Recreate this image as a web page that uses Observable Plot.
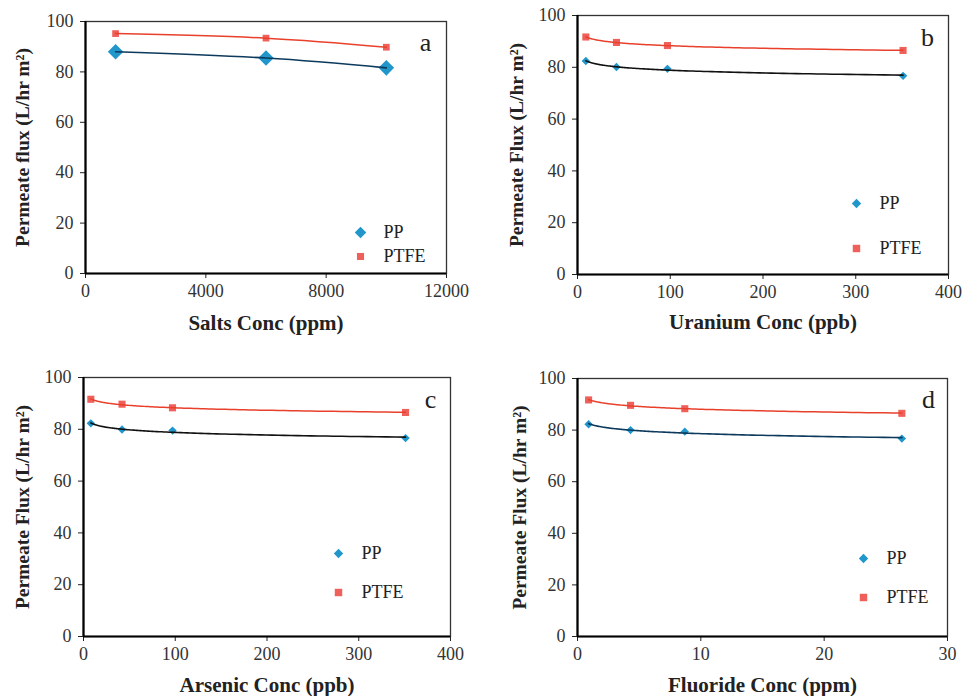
<!DOCTYPE html>
<html>
<head>
<meta charset="utf-8">
<script src="https://cdn.jsdelivr.net/npm/d3@7"></script>
<script src="https://cdn.jsdelivr.net/npm/@observablehq/plot@0.6"></script>
<style>
  html, body { margin: 0; padding: 0; background: #fff; }
  #wrap { position: relative; width: 962px; height: 696px; overflow: hidden; background: #fff; font-family: "Liberation Serif", serif; }
  #wrap svg { position: absolute; overflow: visible; }
  #wrap svg text { font-family: "Liberation Serif", serif !important; }
</style>
</head>
<body>
<div id="wrap"></div>
<script>
// ---- data ----
const seriesNames = ["PP", "PTFE"];
const yTicks = [0, 20, 40, 60, 80, 100];

const saltsConc = [1000, 6000, 10000];
const saltsPP = [88.0, 85.5, 81.6];
const saltsPTFE = [95.2, 93.4, 89.8];
const saltsTicks = [0, 4000, 8000, 12000];

const uraniumConc = [9, 42, 97, 351];
const uraniumPP = [82.4, 80.1, 79.4, 76.7];
const uraniumPTFE = [91.7, 89.6, 88.4, 86.5];
const uraniumTicks = [0, 100, 200, 300, 400];

const arsenicConc = [8, 42, 97, 351];
const arsenicPP = [82.3, 79.9, 79.5, 76.6];
const arsenicPTFE = [91.6, 89.7, 88.3, 86.5];
const arsenicTicks = [0, 100, 200, 300, 400];

const fluorideConc = [0.9, 4.3, 8.7, 26.3];
const fluoridePP = [82.3, 80.0, 79.4, 76.7];
const fluoridePTFE = [91.7, 89.6, 88.3, 86.5];
const fluorideTicks = [0, 10, 20, 30];

// ---- helpers ----
const ppColor = "#2096cb";
const ptfeColor = "#f0605a";
const ptfeLine = "#e9402c";
const FONT = "Liberation Serif";

// logarithmic least-squares trend line (like a spreadsheet log trendline)
function logTrend(xs, ys) {
  const lx = xs.map(Math.log);
  const mx = d3.mean(lx), my = d3.mean(ys);
  const b = d3.sum(lx, (v, i) => (v - mx) * (ys[i] - my)) / d3.sum(lx, v => (v - mx) ** 2);
  const a = my - b * mx;
  const x0 = d3.min(xs), x1 = d3.max(xs);
  return d3.range(0, 121).map(i => {
    const x = x0 * Math.pow(x1 / x0, i / 120);
    return { x, y: a + b * Math.log(x) };
  });
}

function panel(o) {
  const rows = o.x.map((v, i) => ({ x: v, pp: o.pp[i], ptfe: o.ptfe[i] }));
  const lineMarks = o.trend === "log"
    ? [
        Plot.line(logTrend(o.x, o.ptfe), { x: "x", y: "y", stroke: ptfeLine, strokeWidth: 1.5 }),
        Plot.line(logTrend(o.x, o.pp), { x: "x", y: "y", stroke: o.ppLine, strokeWidth: 1.6 })
      ]
    : [
        Plot.line(rows, { x: "x", y: "ptfe", curve: "natural", stroke: ptfeLine, strokeWidth: 1.5 }),
        Plot.line(rows, { x: "x", y: "pp", curve: "natural", stroke: o.ppLine, strokeWidth: 1.6 })
      ];
  const L = o.legend;
  const svg = Plot.plot({
    width: o.width,
    height: o.height,
    marginLeft: o.m[0], marginRight: o.m[1], marginTop: o.m[2], marginBottom: o.m[3],
    style: { fontFamily: FONT, fontSize: "18px", color: "#222", background: "transparent", overflow: "visible" },
    x: { domain: o.xDomain, ticks: o.xTicks },
    y: { domain: [0, 100], ticks: yTicks },
    marks: [
      Plot.frame({ stroke: "#333", strokeWidth: 1.3 }),
      Plot.axisY({ ticks: yTicks, tickSize: 5, tickPadding: 7, label: null, fontSize: 18, fill: "#333", tickFormat: d3.format("d") }),
      Plot.axisX({ ticks: o.xTicks, tickSize: 5, tickPadding: 6, label: null, fontSize: 18, fill: "#333", tickFormat: d3.format("d") }),
      Plot.ruleY([0], { stroke: "#000", strokeWidth: 2.2 }),
      Plot.ruleX([o.xDomain[0]], { stroke: "#000", strokeWidth: 2.2 }),
      Plot.dot(rows, { x: "x", y: "ptfe", symbol: "square", r: o.ptfeR, fill: ptfeColor, stroke: "none" }),
      Plot.dot(rows, { x: "x", y: "pp", symbol: "diamond2", r: o.ppR, fill: ppColor, stroke: "none" }),
      ...lineMarks,
      // axis titles
      Plot.text([o.yTitle], { text: d => d, frameAnchor: "left", dx: -o.yTitleDx, rotate: -90, textAnchor: "middle", lineAnchor: "middle", fontWeight: "bold", fontSize: 19.5, fill: "#222" }),
      Plot.text([o.xTitle], { text: d => d, frameAnchor: "bottom", dy: o.xTitleDy, textAnchor: "middle", lineAnchor: "middle", fontWeight: "bold", fontSize: 21, fill: "#222" }),
      // panel letter
      Plot.text([o.letter], { text: d => d, frameAnchor: "top-right", dx: o.letterPos[0], dy: o.letterPos[1], textAnchor: "middle", lineAnchor: "middle", fontSize: 26, fill: "#222" }),
      // legend
      Plot.dot([seriesNames[0]], { frameAnchor: "bottom-right", dx: L.dx, dy: L.ppDy, symbol: "diamond2", r: L.ppR, fill: ppColor, stroke: "none" }),
      Plot.dot([seriesNames[1]], { frameAnchor: "bottom-right", dx: L.dx, dy: L.ptfeDy, symbol: "square", r: L.ptfeR, fill: ptfeColor, stroke: "none" }),
      Plot.text([seriesNames[0]], { text: d => d, frameAnchor: "bottom-right", dx: L.tx, dy: L.ppDy, textAnchor: "start", lineAnchor: "middle", fontSize: 18, fill: "#222" }),
      Plot.text([seriesNames[1]], { text: d => d, frameAnchor: "bottom-right", dx: L.tx, dy: L.ptfeDy, textAnchor: "start", lineAnchor: "middle", fontSize: 18, fill: "#222" })
    ]
  });
  svg.style.left = o.left + "px";
  svg.style.top = o.top + "px";
  svg.style.fontFamily = FONT;
  svg.setAttribute("font-family", FONT);
  document.getElementById("wrap").appendChild(svg);
}

panel({
  left: 0, top: 0, width: 481, height: 348, m: [85, 35, 21, 75],
  xDomain: [0, 12000], xTicks: saltsTicks, x: saltsConc, pp: saltsPP, ptfe: saltsPTFE,
  trend: "poly", ppLine: "#0d3a5c", ppR: 7, ptfeR: 3.8,
  yTitle: "Permeate flux (L/hr m²)", yTitleDx: 63, xTitle: "Salts Conc (ppm)", xTitleDy: 50,
  letter: "a", letterPos: [-21, 21],
  legend: { dx: -86, tx: -63, ppDy: -41, ptfeDy: -17, ppR: 5.2, ptfeR: 4 }
});

panel({
  left: 481, top: 0, width: 481, height: 348, m: [96, 14, 15, 74],
  xDomain: [0, 400], xTicks: uraniumTicks, x: uraniumConc, pp: uraniumPP, ptfe: uraniumPTFE,
  trend: "log", ppLine: "#111", ppR: 3.8, ptfeR: 4,
  yTitle: "Permeate Flux (L/hr m²)", yTitleDx: 61, xTitle: "Uranium Conc (ppb)", xTitleDy: 48,
  letter: "b", letterPos: [-21, 22],
  legend: { dx: -92, tx: -69, ppDy: -71, ptfeDy: -26, ppR: 4.2, ptfeR: 4.2 }
});

panel({
  left: 0, top: 348, width: 481, height: 348, m: [83, 31, 29, 60],
  xDomain: [0, 400], xTicks: arsenicTicks, x: arsenicConc, pp: arsenicPP, ptfe: arsenicPTFE,
  trend: "log", ppLine: "#111", ppR: 3.8, ptfeR: 4,
  yTitle: "Permeate Flux (L/hr m²)", yTitleDx: 61, xTitle: "Arsenic Conc (ppb)", xTitleDy: 49,
  letter: "c", letterPos: [-20, 22],
  legend: { dx: -112, tx: -89, ppDy: -83, ptfeDy: -44, ppR: 4.2, ptfeR: 4.2 }
});

panel({
  left: 481, top: 348, width: 481, height: 348, m: [96, 15, 30, 60],
  xDomain: [0, 30], xTicks: fluorideTicks, x: fluorideConc, pp: fluoridePP, ptfe: fluoridePTFE,
  trend: "log", ppLine: "#0d3a5c", ppR: 3.8, ptfeR: 4,
  yTitle: "Permeate Flux (L/hr m²)", yTitleDx: 58, xTitle: "Fluoride Conc (ppm)", xTitleDy: 49,
  letter: "d", letterPos: [-19, 21],
  legend: { dx: -84, tx: -61, ppDy: -78, ptfeDy: -39, ppR: 4.2, ptfeR: 4.2 }
});
</script>
</body>
</html>
